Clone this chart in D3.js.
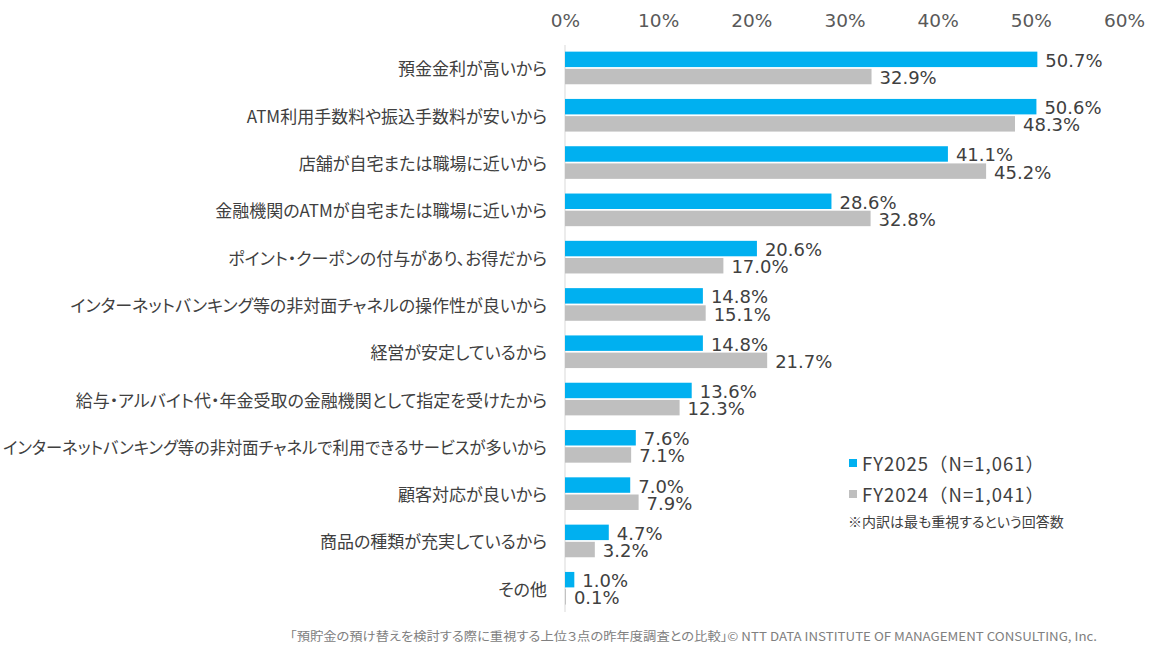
<!DOCTYPE html>
<html>
<head>
<meta charset="utf-8">
<script src="https://cdn.jsdelivr.net/npm/d3@7"></script>
<style>
  body { margin: 0; background: #fff; }
  svg { display: block; }
  .cat { font-family: "Noto Sans CJK JP", sans-serif; font-size: 17px; fill: #404040; font-feature-settings: "palt"; }
  .val { font-family: "DejaVu Sans", sans-serif; font-size: 18px; fill: #404040; }
  .tick text { font-family: "DejaVu Sans", sans-serif; font-size: 18.5px; fill: #595959; }
  .legend { font-family: "Noto Sans CJK JP", sans-serif; font-size: 18.5px; fill: #404040; letter-spacing: 1px; }
  .note { font-family: "Noto Sans CJK JP", sans-serif; font-size: 14px; fill: #404040; font-feature-settings: "palt"; }
  .footer { font-family: "Noto Sans CJK JP", sans-serif; font-size: 12px; fill: #808080; font-feature-settings: "palt"; }
</style>
</head>
<body>
<svg id="chart" width="1153" height="652"></svg>
<script>
// categories, top to bottom
const categories = [
  '預金金利が高いから',
  'ATM利用手数料や振込手数料が安いから',
  '店舗が自宅または職場に近いから',
  '金融機関のATMが自宅または職場に近いから',
  'ポイント・クーポンの付与があり、お得だから',
  'インターネットバンキング等の非対面チャネルの操作性が良いから',
  '経営が安定しているから',
  '給与・アルバイト代・年金受取の金融機関として指定を受けたから',
  'インターネットバンキング等の非対面チャネルで利用できるサービスが多いから',
  '顧客対応が良いから',
  '商品の種類が充実しているから',
  'その他'
]
const fy2025 = [50.7, 50.6, 41.1, 28.6, 20.6, 14.8, 14.8, 13.6, 7.6, 7.0, 4.7, 1.0]
const fy2024 = [32.9, 48.3, 45.2, 32.8, 17.0, 15.1, 21.7, 12.3, 7.1, 7.9, 3.2, 0.1]
const seriesNames = ['FY2025（N=1,061）', 'FY2024（N=1,041）']
const ticks = [0, 10, 20, 30, 40, 50, 60]
const note = '※内訳は最も重視するという回答数'
const footer = '「預貯金の預け替えを検討する際に重視する上位３点の昨年度調査との比較」© NTT DATA INSTITUTE OF MANAGEMENT CONSULTING, Inc.'

const colors = ['#00b0f0', '#bfbfbf']

const svg = d3.select('#chart')

const x = d3.scaleLinear().domain([0, 60]).range([565, 1124])

const y = d3.scaleBand()
  .domain(categories)
  .range([44.3, 611.9])
  .paddingInner(0.31)
  .paddingOuter(0.155)

const ySub = d3.scaleBand()
  .domain([0, 1])
  .range([0, y.bandwidth()])
  .paddingInner(0.1)

// top axis with labels only
const axis = svg.append('g')
  .attr('transform', 'translate(0, 27)')
  .call(d3.axisTop(x).tickValues(ticks).tickFormat(d => d + '%').tickSize(0).tickPadding(0))
axis.select('.domain').remove()

// vertical baseline
svg.append('line')
  .attr('x1', x(0)).attr('x2', x(0))
  .attr('y1', 45).attr('y2', 612)
  .attr('stroke', '#d9d9d9')
  .attr('stroke-width', 1)

const rows = categories.map((c, i) => ({ cat: c, values: [fy2025[i], fy2024[i]] }))

const groups = svg.selectAll('g.row')
  .data(rows)
  .enter()
  .append('g')
  .attr('class', 'row')
  .attr('transform', d => 'translate(0,' + y(d.cat) + ')')

groups.append('text')
  .attr('class', 'cat')
  .attr('x', 547)
  .attr('y', y.bandwidth() / 2)
  .attr('text-anchor', 'end')
  .attr('dominant-baseline', 'central')
  .text(d => d.cat)
  .each(function () {
    // keep the longest labels inside the left margin
    if (this.getComputedTextLength() > 544) {
      d3.select(this).attr('textLength', 544).attr('lengthAdjust', 'spacingAndGlyphs')
    }
  })

groups.selectAll('rect')
  .data(d => d.values)
  .enter()
  .append('rect')
  .attr('x', x(0))
  .attr('y', (d, i) => ySub(i))
  .attr('width', d => x(d) - x(0))
  .attr('height', ySub.bandwidth())
  .attr('fill', (d, i) => colors[i])

groups.selectAll('text.val')
  .data(d => d.values)
  .enter()
  .append('text')
  .attr('class', 'val')
  .attr('x', d => x(d) + 8)
  .attr('y', (d, i) => ySub(i) + ySub.bandwidth() / 2 + 1)
  .attr('dominant-baseline', 'central')
  .text(d => d.toFixed(1) + '%')

// legend
const legend = svg.selectAll('g.legend-item')
  .data(seriesNames)
  .enter()
  .append('g')
  .attr('class', 'legend-item')
  .attr('transform', (d, i) => 'translate(849,' + (463 + i * 31) + ')')

legend.append('rect')
  .attr('x', 0).attr('y', -4)
  .attr('width', 8).attr('height', 8)
  .attr('fill', (d, i) => colors[i])

legend.append('text')
  .attr('class', 'legend')
  .attr('x', 13)
  .attr('y', 0)
  .attr('dominant-baseline', 'central')
  .text(d => d)

svg.append('text')
  .attr('class', 'note')
  .attr('x', 848)
  .attr('y', 521)
  .attr('dominant-baseline', 'central')
  .text(note)

svg.append('text')
  .attr('class', 'footer')
  .attr('x', 290)
  .attr('y', 635)
  .attr('dominant-baseline', 'central')
  .attr('textLength', 807)
  .attr('lengthAdjust', 'spacingAndGlyphs')
  .text(footer)
</script>
</body>
</html>
